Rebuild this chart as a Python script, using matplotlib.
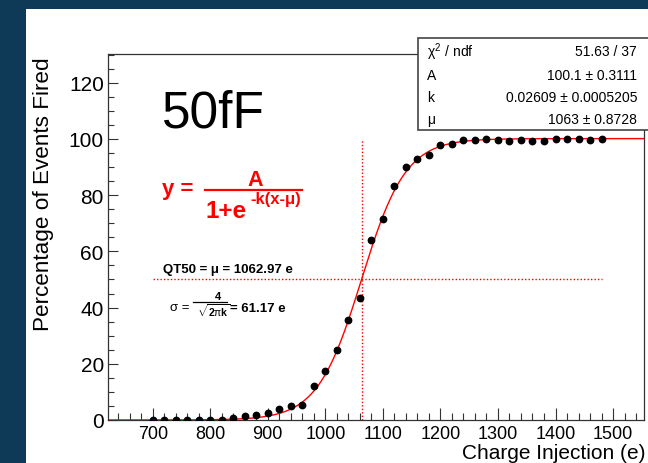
import matplotlib
matplotlib.use('Agg')
import matplotlib.pyplot as plt
from matplotlib.patches import Rectangle
import numpy as np

# data
charge = [700, 720, 740, 760, 780, 800, 820, 840, 860, 880,
          900, 920, 940, 960, 980, 1000, 1020, 1040, 1060, 1080,
          1100, 1120, 1140, 1160, 1180, 1200, 1220, 1240, 1260, 1280,
          1300, 1320, 1340, 1360, 1380, 1400, 1420, 1440, 1460, 1480]
fired = [0, 0, 0, 0, 0, 0, 0, 0.8, 1.5, 1.8,
         2.6, 3.8, 5.0, 5.2, 12.1, 17.5, 25.0, 35.7, 43.3, 63.9,
         71.6, 83.2, 89.9, 92.9, 94.1, 98.0, 98.2, 99.6, 99.5, 100.0,
         99.6, 99.4, 99.6, 99.4, 99.3, 100.0, 100.0, 100.0, 99.5, 100.0]

# fit results (stat box)
fit_A = 100.1
fit_k = 0.02609
fit_mu = 1063
qt50 = 1062.97
half_level = 50
stat_names = [r'$\chi^2$ / ndf', 'A', 'k', 'μ']
stat_values = ['51.63 / 37', '100.1 ± 0.3111', '0.02609 ± 0.0005205', '1063 ± 0.8728']

plt.rcParams['font.family'] = ['Liberation Sans', 'DejaVu Sans']
plt.rcParams['mathtext.fontset'] = 'custom'
plt.rcParams['mathtext.rm'] = 'Liberation Sans'
plt.rcParams['mathtext.it'] = 'Liberation Sans'
plt.rcParams['mathtext.bf'] = 'Liberation Sans:bold'

W, H = 648, 464
fig = plt.figure(figsize=(W / 100, H / 100), dpi=100, facecolor='#0f3a57')

# white slide panel
fig.add_artist(Rectangle((26 / W, 0), 1, 1 - 10 / H, transform=fig.transFigure,
                         facecolor='white', edgecolor='none', zorder=-1))

ax = fig.add_axes([108 / W, 1 - 421 / H, 536 / W, 366 / H])
ax.set_xlim(622.3, 1553.8)
ax.set_ylim(0, 130.2)

# fit curve
xf = np.linspace(622.3, 1553.8, 600)
ax.plot(xf, fit_A / (1 + np.exp(-fit_k * (xf - fit_mu))), color='red', lw=1.0, zorder=2)
ax.plot(charge, fired, 'o', color='black', ms=4.6, zorder=3)

# QT50 guide lines
ax.hlines(half_level, charge[0], charge[-1], colors='red', lw=1.0,
          linestyles=(0, (1, 1.5)), zorder=1)
ax.vlines(qt50, 0, 100, colors='red', lw=1.0, linestyles=(0, (1, 1.5)), zorder=1)

# axes style (ROOT-like)
ax.set_xticks([700, 800, 900, 1000, 1100, 1200, 1300, 1400, 1500])
ax.set_xticks(np.arange(640, 1554, 20), minor=True)
ax.set_yticks([0, 20, 40, 60, 80, 100, 120])
ax.set_yticks(np.arange(0, 131, 5), minor=True)
ax.tick_params(axis='x', which='major', direction='in', length=8.6, width=0.8,
               labelsize=13, pad=3.5, top=False, color='#333333')
ax.tick_params(axis='x', which='minor', direction='in', length=5, width=0.8,
               top=False, color='#333333')
ax.tick_params(axis='y', which='major', direction='in', length=7.2, width=0.8,
               labelsize=15, pad=3, right=False, color='#333333')
ax.tick_params(axis='y', which='minor', direction='in', length=4.3, width=0.8,
               right=False, color='#333333')
for s in ax.spines.values():
    s.set_color('#333333')
    s.set_linewidth(0.9)

fig.text(646 / W, 1 - 459.5 / H, 'Charge Injection (e)', ha='right', va='baseline', fontsize=15)
fig.text(44 / W, 1 - 57 / H, 'Percentage of Events Fired', rotation=90,
         ha='center', va='top', fontsize=16.2)

# annotations
ax.text(716, 104.3, '50fF', fontsize=37, va='baseline', ha='left')
ax.text(716.2, 80.4, 'y =', color='red', fontsize=16, fontweight='bold', va='baseline')
ax.text(877.8, 83.6, 'A', color='red', fontsize=15.5, fontweight='bold', va='baseline', ha='center')
ax.plot([790.9, 959.5], [81.85, 81.85], color='red', lw=1.6)
ax.text(791, 72.2, '1+e', color='red', fontsize=17.5, fontweight='bold', va='baseline')
ax.text(869, 77.2, '-k(x-μ)', color='red', fontsize=12, fontweight='bold', va='baseline')
ax.text(718, 52.7, 'QT50 = μ = 1062.97 e', fontsize=9.5, fontweight='bold', va='baseline')

# sigma = 4 / sqrt(2 pi k) = 61.17 e
ax.text(730, 39.3, 'σ =', fontsize=9.5, va='baseline')
ax.text(813.5, 42.9, '4', fontsize=8, fontweight='bold', va='baseline', ha='center')
ax.plot([770, 829], [41.8, 41.8], color='black', lw=0.9)
ax.text(805, 37.0, r'$\sqrt{\mathbf{2}\pi\mathbf{k}}$', fontsize=7.5, va='baseline', ha='center')
ax.text(835, 38.8, '= 61.17 e', fontsize=9.5, fontweight='bold', va='baseline')

# stat box
fig.add_artist(Rectangle((418 / W, 1 - 131 / H), 300 / W, 92 / H, transform=fig.transFigure,
                         facecolor='white', edgecolor='#444444', lw=1.2, zorder=5))
rows_y = [52, 76, 98, 120]
for name, val, py in zip(stat_names, stat_values, rows_y):
    fig.text(427 / W, 1 - py / H, name, fontsize=10, va='center', ha='left', zorder=6)
    fig.text(637 / W, 1 - py / H, val, fontsize=10, va='center', ha='right', zorder=6)

fig.savefig('out.png', dpi=100, facecolor=fig.get_facecolor())
